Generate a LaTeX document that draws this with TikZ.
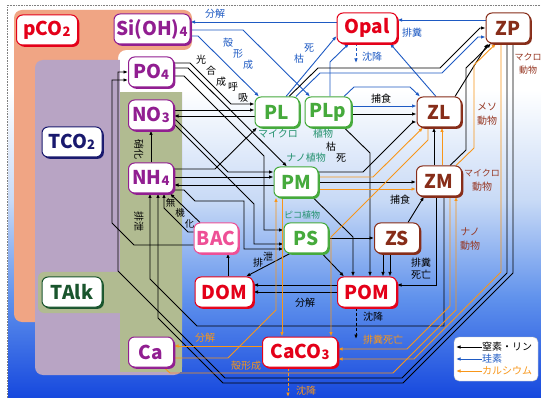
\documentclass[tikz,border=0pt]{standalone}
\usepackage{fontspec}
\setmainfont{Noto Sans CJK JP}
\usetikzlibrary{arrows.meta,shadows}
\pgfdeclarelayer{bg}
\pgfdeclarelayer{ln}
\pgfsetlayers{bg,ln,main}
\definecolor{cred}{RGB}{228,0,25}
\definecolor{cpur}{RGB}{145,30,145}
\definecolor{cgrn}{RGB}{70,170,60}
\definecolor{cbrn}{RGB}{135,45,25}
\definecolor{cnavy}{RGB}{25,25,110}
\definecolor{cdg}{RGB}{25,85,45}
\definecolor{cpink}{RGB}{238,80,150}
\definecolor{cblue}{RGB}{30,90,195}
\definecolor{corg}{RGB}{248,150,25}
\definecolor{ctxtg}{RGB}{35,145,110}
\definecolor{ctxtb}{RGB}{150,55,35}
\definecolor{salm}{RGB}{240,165,132}
\definecolor{purp}{RGB}{184,164,196}
\definecolor{oliv}{RGB}{177,187,145}
\definecolor{bgA}{RGB}{200,218,246}
\definecolor{bgB}{RGB}{95,145,236}
\definecolor{bgC}{RGB}{22,72,222}
\newcommand\sbs[1]{\raisebox{-1pt}{\fontsize{13}{13}\selectfont #1}}
\newcommand\dn[1]{\raisebox{-#1}}
\begin{document}
\begin{tikzpicture}[x=1pt,y=-1pt,
 nbox/.style={draw=#1,text=#1,fill=white,line width=1pt,rounded corners=6pt,inner sep=0pt,minimum height=30pt,font=\fontsize{19}{19}\selectfont\bfseries,drop shadow={shadow xshift=1.8pt,shadow yshift=-1.8pt,fill=#1,opacity=1}},
 arw/.style={line width=0.9pt,-{Latex[length=4.5pt,width=3.6pt]}},
 bk/.style={arw,draw=black},
 bl/.style={arw,draw=cblue},
 og/.style={arw,draw=corg},
 lbl/.style={font=\fontsize{10}{10}\selectfont,inner sep=0pt},
]
\useasboundingbox (0,0) rectangle (541,398);
\begin{pgfonlayer}{bg}
\fill[white] (0,0) rectangle (541,398);
\shade[top color=white,bottom color=bgA] (8,90) rectangle (541,200);
\shade[top color=bgA,bottom color=bgC,middle color=bgB] (8,200) rectangle (541,398);
\draw[densely dotted,gray,line width=0.6pt] (7.5,398) -- (7.5,5) -- (541,5);
\fill[salm,rounded corners=8pt] (14,10) -- (192,10) -- (192,50) -- (118,50) -- (118,322) -- (14,322) -- cycle;
\fill[purp,rounded corners=8pt] (35,60) rectangle (182,375);
\fill[white] (120,53) rectangle (200,92);
\fill[oliv] (120,92) rectangle (182,372);
\fill[oliv,rounded corners=6pt] (38,272) rectangle (182,313);
\end{pgfonlayer}

% nodes
\node[nbox=cred,minimum width=61pt] (pco2) at (47,30) {pCO\sbs{2}};
\node[nbox=cpur,minimum width=76pt] (si) at (152,29) {Si(OH)\sbs{4}};
\node[nbox=cred,minimum width=60pt] (opal) at (367,28) {Opal};
\node[nbox=cbrn,minimum width=44pt] (zp) at (508,28) {ZP};
\node[nbox=cpur,minimum width=45pt] (po4) at (151,72) {PO\sbs{4}};
\node[nbox=cpur,minimum width=45pt] (no3) at (151,115) {NO\sbs{3}};
\node[nbox=cnavy,minimum width=60pt] (tco2) at (72,142) {TCO\sbs{2}};
\node[nbox=cpur,minimum width=45pt] (nh4) at (151,178) {NH\sbs{4}};
\node[nbox=cgrn,minimum width=44pt] (pl) at (277,112) {PL};
\node[nbox=cgrn,minimum width=46pt] (plp) at (328,112) {PLp};
\node[nbox=cbrn,minimum width=44pt] (zl) at (439,112) {ZL};
\node[nbox=cgrn,minimum width=44pt] (pm) at (296,182) {PM};
\node[nbox=cbrn,minimum width=45pt] (zm) at (439,181) {ZM};
\node[nbox=cpink,minimum width=44pt] (bac) at (216,238) {BAC};
\node[nbox=cgrn,minimum width=44pt] (ps) at (306,238) {PS};
\node[nbox=cbrn,minimum width=45pt] (zs) at (397,238) {ZS};
\node[nbox=cred,minimum width=58pt] (dom) at (224,292) {DOM};
\node[nbox=cred,minimum width=59pt] (pom) at (367,292) {POM};
\node[nbox=cdg,minimum width=60pt] (talk) at (72,292) {TAlk};
\node[nbox=cpur,minimum width=45pt] (ca) at (151,352) {Ca};
\node[nbox=cred,minimum width=75pt] (caco3) at (300,352) {CaCO\sbs{3}};

\begin{pgfonlayer}{ln}
% silicon
\draw[bl] (opal.west |- 0,22) -- (si.east |- 0,22);
\draw[bl] (si.east |- 0,30) -- (243,30) -- (plp.north -| 310,0);
\draw[bl] (si.east |- 0,36) -- (198,36) -- (pl.north -| 259,0);
\draw[bl] (pl.north -| 286,0) -- (opal.west |- 0,36);
\draw[bl] (plp.north -| 330,0) -- (330,62) -- (opal.south -| 349,0);
\draw[bl] (zp.west |- 0,20) -- (opal.east |- 0,20);
\draw[bl] (zl.north -| 436,0) -- (opal.south -| 390,0);
\draw[bl,densely dashed] (opal.south -| 356,0) -- (356,63);
\draw[bl] (pl.north -| 296,0) -- (320,73) -- (442,73) -- (478,37) -- (zp.west |- 0,37);
\draw[bl] (plp.north -| 344,0) -- (354,87) -- (410,87) -- (zl.north -| 420,0);
\draw[bl] (plp.east |- 0,106) -- (zl.west |- 0,106);
% nitrogen / phosphorus
\draw[bk] (pl.north -| 289,0) -- (318,68) -- (440,68) -- (480,28) -- (zp.west |- 0,28);
\draw[bk] (no3.east |- 0,110) -- (pl.west |- 0,110);
\draw[bk] (pl.west |- 0,116) -- (no3.east |- 0,116);
\draw[bk] (po4.east |- 0,63) -- (190,63) -- (231,104) -- (pl.west |- 0,104);
\draw[bk] (po4.east |- 0,68) -- (188,68) -- (pm.north -| 287,0);
\draw[bk] (po4.east |- 0,76) -- (184,76) -- (264,156) -- (264,230) -- (ps.west |- 0,230);
\draw[bk] (no3.east |- 0,120) -- (176,120) -- (228,172) -- (pm.west |- 0,172);
\draw[bk] (no3.east |- 0,124) -- (174,124) -- (254,204) -- (254,244) -- (ps.west |- 0,244);
\draw[bk] (nh4.east |- 0,169) -- (215,169) -- (pl.south -| 257,0);
\draw[bk] (nh4.east |- 0,177) -- (pm.west |- 0,177);
\draw[bk] (pm.west |- 0,185) -- (nh4.east |- 0,185);
\draw[bk] (nh4.east |- 0,190) -- (184,190) -- (195,201) -- (244,201) -- (244,249) -- (ps.west |- 0,249);
\draw[bk] (bac.north -| 200,0) -- (nh4.south -| 170,0);
\draw[bk] (bac.west |- 0,232) -- (188,232) -- (164,208) -- (nh4.south -| 164,0);
\draw[bk] (dom.north -| 228,0) -- (bac.south -| 228,0);
\draw[bk] (bac.west |- 0,245) -- (134,245) -- (112,223) -- (112,80) -- (po4.west |- 0,80);
\draw[bk] (nh4.north -| 151,0) -- (no3.south -| 151,0);
\draw[bk] (pom.west |- 0,285) -- (dom.east |- 0,285);
\draw[bk] (pom.west |- 0,292) -- (dom.east |- 0,292);
\draw[bk] (ps.east |- 0,238) -- (zs.west |- 0,238);
\draw[bk] (zs.north -| 408,0) -- (zm.south -| 424,0);
\draw[bk] (pm.east |- 0,172) -- (363,172) -- (413,122) -- (zl.west |- 0,122);
\draw[bk] (pm.east |- 0,182) -- (zm.west |- 0,182);
\draw[bk] (plp.east |- 0,114) -- (zl.west |- 0,114);
\draw[bk] (zm.north -| 434,0) -- (zl.south -| 434,0);
\draw[bk] (zl.north -| 455,0) -- (zp.south -| 488,0);
\draw[bk] (zm.north -| 450,0) -- (466,150) -- (466,68) -- (zp.south -| 491,0);
\draw[bk] (zs.south -| 383,0) -- (pom.north -| 383,0);
\draw[bk] (zs.south -| 390,0) -- (pom.north -| 390,0);
\draw[bk] (zm.south -| 436,0) -- (436,285) -- (pom.east |- 0,285);
\draw[bk] (plp.south -| 344,0) -- (370,153) -- (pom.north -| 370,0);
\draw[bk] (pm.south -| 313,0) -- (353,237) -- (pom.north -| 353,0);
\draw[bk] (ps.south -| 322,0) -- (pom.north -| 344,0);
\draw[bk] (ps.south -| 290,0) -- (dom.north -| 246,0);
\draw[bk] (zp.south -| 513,0) -- (513,273) -- (403,383) -- (223,383) -- (158,318) -- (nh4.south -| 158,0);
\draw[bk] (zp.south -| 507,0) -- (507,273) -- (402,378) -- (225,378) -- (118,271) -- (118,72) -- (po4.west |- 0,72);
\draw[bk] (zm.south -| 444,0) -- (444,326) -- (197,326) -- (150,279) -- (nh4.south -| 150,0);
\draw[bk,densely dashed] (pom.south -| 356,0) -- (356,339);
% calcium
\draw[og] (caco3.west |- 0,346) -- (ca.east |- 0,346);
\draw[og] (ca.east |- 0,358) -- (228,358) -- (276,310) -- (pm.south -| 276,0);
\draw[og] (pm.south -| 282,0) -- (caco3.north -| 282,0);
\draw[og] (pm.east |- 0,177) -- (373,177) -- (zl.south -| 423,0);
\draw[og] (pm.east |- 0,189) -- (zm.west |- 0,189);
\draw[og] (zm.north -| 442,0) -- (zl.south -| 442,0);
\draw[og] (zm.north -| 456,0) -- (474,148) -- (474,65) -- (zp.south -| 496,0);
\draw[og] (zl.south -| 428,0) -- (428,140) -- (331,237) -- (caco3.north -| 331,0);
\draw[og] (zm.south -| 450,0) -- (450,306) -- (407,349) -- (caco3.east |- 0,349);
\draw[og] (zp.south -| 501,0) -- (501,272) -- (414,359) -- (caco3.east |- 0,359);
\draw[og] (ca.south -| 164,0) -- (170,373) -- (393,373) -- (456,310) -- (zm.south -| 456,0);
\draw[og,densely dashed] (caco3.south -| 288,0) -- (288,397);
\end{pgfonlayer}

% labels
\node[lbl,text=cblue] (t1) at (215,14) {分解};
\node[lbl,text=cblue] (t2) at (238,54) {殻\dn{11pt}{形}\dn{22pt}{成}};
\node[lbl] (t3) at (211,71) {光\dn{11pt}{合}\dn{22pt}{成}};
\node[lbl] (t4) at (238,92) {呼\dn{11pt}{吸}};
\node[lbl,text=cblue] (t5) at (304,54) {枯\raisebox{11pt}{死}};
\node[lbl,text=cblue] (t6) at (412,33) {排糞};
\node[lbl,text=cblue] (t7) at (372,57) {沈降};
\node[lbl] (t8) at (381,99) {捕食};
\node[lbl,text=ctxtg] (t9) at (278,134) {マイクロ};
\node[lbl,text=ctxtg] (t10) at (323,134) {植物};
\node[lbl] (t11) at (336,152) {枯\dn{11pt}{死}};
\node[lbl,text=ctxtg] (t12) at (306,158) {ナノ植物};
\node[lbl,text=ctxtg,font=\fontsize{9}{9}\selectfont] (t13) at (302,215) {ピコ植物};
\node[lbl] (t14) at (400,200) {捕食};
\node[lbl,rotate=-90] (t15) at (139,150) {硝化};
\node[lbl,rotate=-90] (t16) at (139,222) {排泄};
\node[lbl,font=\fontsize{9.5}{9.5}\selectfont] (t17) at (180,213) {無\dn{10.5pt}{機}\dn{21pt}{化}};
\node[lbl] (t18) at (263,260) {排\raisebox{6pt}{泄}};
\node[lbl] (t19) at (305,303) {分解};
\node[lbl] (t20) at (373,317) {沈降};
\node[lbl] (t21) at (421,263) {排糞};
\node[lbl] (t22) at (421,275) {死亡};
\node[lbl,text=corg] (t23) at (383,340) {排糞死亡};
\node[lbl,text=corg] (t24) at (205,338) {分解};
\node[lbl,text=corg] (t25) at (246,366) {殻形成};
\node[lbl,text=corg] (t26) at (306,391) {沈降};
\node[lbl,text=ctxtb,font=\fontsize{9}{9}\selectfont] (t27) at (528,57) {マクロ};
\node[lbl,text=ctxtb,font=\fontsize{9}{9}\selectfont] (t28) at (528,70) {動物};
\node[lbl,text=ctxtb] (t29) at (487,107) {メソ};
\node[lbl,text=ctxtb] (t30) at (487,121) {動物};
\node[lbl,text=ctxtb,font=\fontsize{9}{9}\selectfont] (t31) at (482,173) {マイクロ};
\node[lbl,text=ctxtb] (t32) at (482,187) {動物};
\node[lbl,text=ctxtb] (t33) at (470,232) {ナノ};
\node[lbl,text=ctxtb] (t34) at (470,246) {動物};

% legend
\node[draw=black!25,fill=white,rounded corners=5pt,minimum width=84pt,minimum height=44pt,inner sep=0pt] (leg) at (496,359) {};
\node[lbl,anchor=west] (lg1) at (482,347) {窒素・リン};
\node[lbl,anchor=west,text=cblue] (lg2) at (482,359) {珪素};
\node[lbl,anchor=west,text=corg] (lg3) at (482,371) {カルシウム};
\draw[bk] (lg1.west) -- ++(-26,0);
\draw[bl] (lg2.west) -- ++(-26,0);
\draw[og] (lg3.west) -- ++(-26,0);
\end{tikzpicture}
\end{document}
